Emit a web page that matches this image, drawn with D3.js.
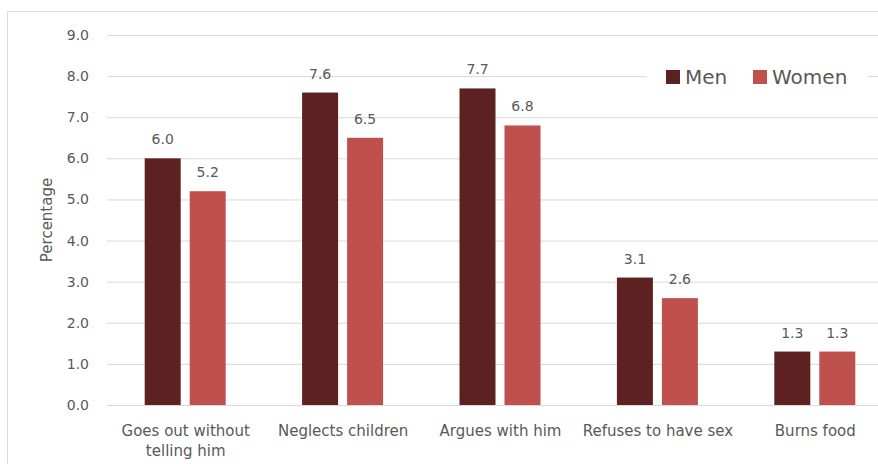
<!DOCTYPE html>
<html><head><meta charset="utf-8">
<script src="https://cdn.jsdelivr.net/npm/d3@7"></script>
<style>body{margin:0;background:#fff}svg{display:block}</style>
</head><body><svg id="c" width="878" height="464"></svg>
<script>
const categories = [["Goes out without","telling him"],["Neglects children"],["Argues with him"],["Refuses to have sex"],["Burns food"]];
const seriesNames = ["Men","Women"];
const men = [6.0, 7.6, 7.7, 3.1, 1.3];
const women = [5.2, 6.5, 6.8, 2.6, 1.3];
const yTicks = [0,1,2,3,4,5,6,7,8,9];
const colors = ["#5E2121","#C0504D"];
const font = "'DejaVu Sans', sans-serif";
const textCol = "#595959";

const svg = d3.select("#c");
const W = 878, H = 464;
svg.append("rect").attr("x",7.5).attr("y",11.5).attr("width",W).attr("height",H).attr("fill","#fff").attr("stroke","#dedede");

const x0 = d3.scaleBand().domain(d3.range(categories.length)).range([107, 894]);
const y = d3.scaleLinear().domain([0,9]).range([405, 35]);
const x1 = d3.scaleBand().domain(seriesNames).range([-41, 40]).paddingInner(0.2);

// grid
svg.append("g").selectAll("line").data(yTicks).join("line")
  .attr("x1",107).attr("x2",W).attr("y1",d=>y(d)+0.5).attr("y2",d=>y(d)+0.5)
  .attr("stroke","#d9d9d9").attr("stroke-width",1);

// y tick labels
const yAxis = d3.axisLeft(y).tickValues(yTicks).tickFormat(d3.format(".1f")).tickSize(0).tickPadding(0);
const ga = svg.append("g").attr("transform","translate(89,0)").call(yAxis);
ga.select(".domain").remove();
ga.selectAll("text").attr("font-family",font).attr("font-size",14).attr("fill",textCol);

svg.append("text").attr("transform","translate(52,220) rotate(-90)").attr("text-anchor","middle")
  .attr("font-family",font).attr("font-size",15).attr("fill",textCol).text("Percentage");

const data = [men, women];
const groups = svg.append("g").selectAll("g").data(categories).join("g")
  .attr("transform",(d,i)=>`translate(${x0(i)+x0.bandwidth()/2},0)`);
seriesNames.forEach((s,si)=>{
  groups.append("rect")
    .attr("x",x1(s)).attr("width",x1.bandwidth())
    .attr("y",(d,i)=>y(data[si][i])).attr("height",(d,i)=>y(0)-y(data[si][i]))
    .attr("fill",colors[si]);
  groups.append("text")
    .attr("x",x1(s)+x1.bandwidth()/2).attr("y",(d,i)=>y(data[si][i])-14)
    .attr("text-anchor","middle").attr("font-family",font).attr("font-size",14).attr("fill",textCol)
    .text((d,i)=>d3.format(".1f")(data[si][i]));
});
groups.each(function(d){
  const t = d3.select(this).append("text").attr("text-anchor","middle")
    .attr("font-family",font).attr("font-size",15).attr("fill",textCol);
  d.forEach((line,li)=>t.append("tspan").attr("x",0).attr("y",436+li*20).text(line));
});

// legend
const lg = svg.append("g");
lg.append("rect").attr("x",647).attr("y",60).attr("width",220).attr("height",32).attr("fill","#fff");
const items = [{n:"Men",x:666},{n:"Women",x:753}];
items.forEach((it,i)=>{
  lg.append("rect").attr("x",it.x).attr("y",70).attr("width",14).attr("height",14).attr("fill",colors[i]);
  lg.append("text").attr("x",it.x+19).attr("y",84).attr("font-family",font).attr("font-size",20).attr("fill",textCol).text(it.n);
});
</script></body></html>
